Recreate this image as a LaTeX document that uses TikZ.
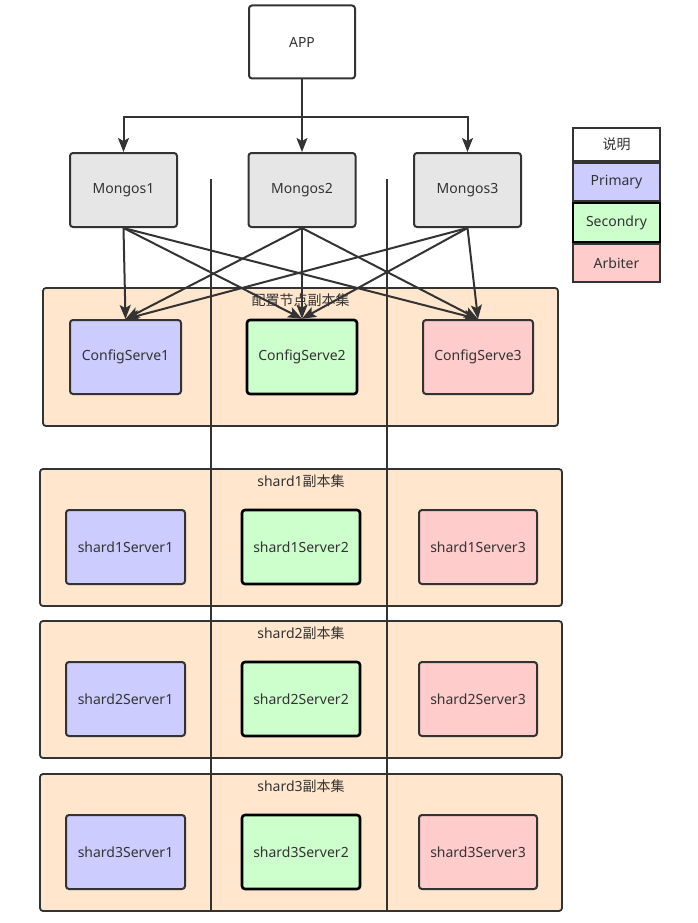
\documentclass[tikz,border=0pt]{standalone}
\usepackage{fontspec}
\setmainfont{Noto Sans}
\newfontfamily\cjk{Noto Sans CJK SC}
\usepackage{tikz}
\usetikzlibrary{arrows.meta,positioning}
\definecolor{ink}{HTML}{333333}
\definecolor{peach}{HTML}{FFE6CC}
\definecolor{prim}{HTML}{CCCCFF}
\definecolor{secd}{HTML}{CCFFCC}
\definecolor{arb}{HTML}{FFCCCC}
\definecolor{mgrey}{HTML}{E6E6E6}
\tikzset{
  >={Stealth[length=14pt,width=11pt,inset=3pt]},
  txt/.style={text=ink, font=\fontsize{14}{16}\selectfont},
  box/.style={txt, draw=ink, rounded corners=3pt, line width=2pt, inner sep=0pt, align=center},
  app/.style={box, fill=white, minimum width=106pt, minimum height=73pt},
  mongos/.style={box, fill=mgrey, minimum width=107pt, minimum height=74pt},
  replset/.style={draw=ink, fill=peach, rounded corners=3pt, line width=1.8pt, inner sep=0pt},
  primary/.style={box, fill=prim, minimum height=74pt},
  secondry/.style={box, fill=secd, draw=black, line width=2.6pt, minimum height=74pt},
  arbiter/.style={box, fill=arb, minimum height=74pt},
  setlbl/.style={txt, anchor=north, yshift=-3.5pt},
  legend/.style={txt, draw=ink, line width=1.8pt, minimum width=87pt, inner sep=0pt},
  link/.style={draw=ink, line width=2pt},
}
\begin{document}
\begin{tikzpicture}[x=1pt, y=-1pt]
  \useasboundingbox (0,0) rectangle (697,923);

  \node[app] (app) at (302,42) {APP};
  \node[mongos] (m1) at (123.5,190) {Mongos1};
  \node[mongos] (m2) at (302,190) {Mongos2};
  \node[mongos] (m3) at (467.5,190) {Mongos3};

  % legend
  \node[legend, fill=white, minimum height=33pt] (lg0) at (616.5,144.5) {\cjk 说明};
  \node[legend, fill=prim, minimum height=38pt, below=0pt of lg0] (lg1) {Primary};
  \node[legend, fill=secd, draw=black, line width=2.4pt, minimum height=39pt, below=0pt of lg1] (lg2) {Secondry};
  \node[legend, fill=arb, minimum height=38pt, below=0pt of lg2] (lg3) {Arbiter};

  % replica sets
  \node[replset, minimum width=515pt, minimum height=138pt,
    label={[setlbl]north:{\cjk 配置节点副本集}}] (cfg) at (300.5,357) {};
  \node[replset, minimum width=522pt, minimum height=137pt,
    label={[setlbl]north:shard1{\cjk 副本集}}] (rs1) at (301,537.5) {};
  \node[replset, minimum width=522pt, minimum height=137pt,
    label={[setlbl]north:shard2{\cjk 副本集}}] (rs2) at (301,689.5) {};
  \node[replset, minimum width=522pt, minimum height=137pt,
    label={[setlbl]north:shard3{\cjk 副本集}}] (rs3) at (301,842.5) {};

  \node[primary, minimum width=111pt] (cs1) at (125.5,357) {ConfigServe1};
  \node[secondry, minimum width=110pt] (cs2) at (302,357) {ConfigServe2};
  \node[arbiter, minimum width=110pt] (cs3) at (478,357) {ConfigServe3};

  \node[primary, minimum width=119pt] (s11) at (125.5,547) {shard1Server1};
  \node[secondry, minimum width=118pt] (s12) at (301,547) {shard1Server2};
  \node[arbiter, minimum width=118pt] (s13) at (478,547) {shard1Server3};

  \node[primary, minimum width=119pt] (s21) at (125.5,699) {shard2Server1};
  \node[secondry, minimum width=118pt] (s22) at (301,699) {shard2Server2};
  \node[arbiter, minimum width=118pt] (s23) at (478,699) {shard2Server3};

  \node[primary, minimum width=119pt] (s31) at (125.5,852) {shard3Server1};
  \node[secondry, minimum width=118pt] (s32) at (301,852) {shard3Server2};
  \node[arbiter, minimum width=118pt] (s33) at (478,852) {shard3Server3};

  % dividers
  \coordinate (d1top) at (211,179);
  \coordinate (d1bot) at (211,911);
  \coordinate (d2top) at (387,179);
  \coordinate (d2bot) at (387,911);
  \draw[link] (d1top) -- (d1bot);
  \draw[link] (d2top) -- (d2bot);

  \draw[link, ->] (app.south) -- ++(0,38) -| (m1.north);
  \draw[link, ->] (app.south) -- ++(0,38) -| (m3.north);
  \draw[link, ->] (app.south) -- (m2.north);

  \draw[link, ->] (m1.south) -- (cs1.north);
  \draw[link, ->] (m1.south) -- (cs2.north);
  \draw[link, ->] (m1.south) -- (cs3.north);
  \draw[link, ->] (m2.south) -- (cs1.north);
  \draw[link, ->] (m2.south) -- (cs2.north);
  \draw[link, ->] (m2.south) -- (cs3.north);
  \draw[link, ->] (m3.south) -- (cs1.north);
  \draw[link, ->] (m3.south) -- (cs2.north);
  \draw[link, ->] (m3.south) -- (cs3.north);
\end{tikzpicture}
\end{document}
